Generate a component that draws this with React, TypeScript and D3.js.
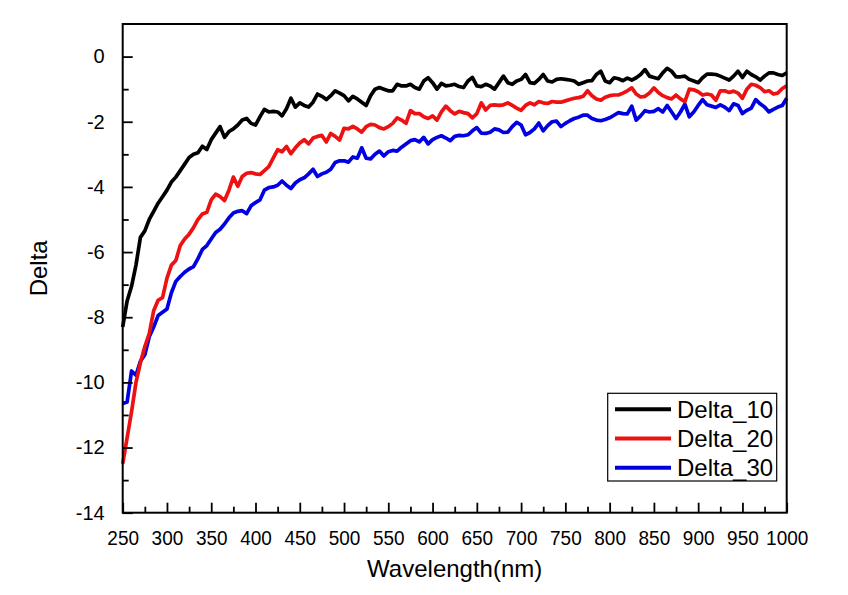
import React, { useEffect, useRef } from 'react';
import * as d3 from 'd3';

// sampling grid, nm
const wavelengths = d3.range(250, 1001, 5);

const delta10 = [
  -8.3, -7.5, -7.05, -6.4, -5.55, -5.35, -5.0, -4.75, -4.5, -4.3,
  -4.1, -3.85, -3.7, -3.5, -3.3, -3.1, -3.0, -2.95, -2.75, -2.85,
  -2.55, -2.35, -2.15, -2.48, -2.3, -2.22, -2.1, -1.95, -1.9, -2.05,
  -2.1, -1.85, -1.62, -1.7, -1.68, -1.7, -1.82, -1.6, -1.28, -1.55,
  -1.42, -1.5, -1.55, -1.4, -1.15, -1.22, -1.32, -1.2, -1.05, -1.12,
  -1.2, -1.36, -1.22, -1.3, -1.4, -1.5, -1.2, -1.0, -0.95, -1.0,
  -1.05, -1.05, -0.85, -0.9, -0.9, -0.85, -0.95, -1.0, -0.75, -0.65,
  -0.8, -1.0, -0.82, -0.9, -0.88, -0.85, -0.92, -0.95, -0.75, -0.64,
  -0.9, -0.92, -0.85, -0.9, -1.0, -0.8, -0.6, -0.8, -0.85, -0.75,
  -0.7, -0.55, -0.8, -0.82, -0.7, -0.55, -0.75, -0.78, -0.7, -0.68,
  -0.7, -0.72, -0.75, -0.85, -0.8, -0.75, -0.74, -0.55, -0.45, -0.75,
  -0.8, -0.65, -0.68, -0.74, -0.66, -0.72, -0.65, -0.55, -0.4, -0.6,
  -0.64, -0.68, -0.5, -0.36, -0.45, -0.62, -0.62, -0.6, -0.7, -0.75,
  -0.8, -0.65, -0.54, -0.54, -0.55, -0.6, -0.66, -0.72, -0.6, -0.45,
  -0.64, -0.45, -0.55, -0.62, -0.72, -0.6, -0.5, -0.5, -0.55, -0.58,
  -0.5,
];

const delta20 = [
  -12.5, -11.7, -10.9, -10.0, -9.4, -8.9, -8.5, -7.8, -7.48, -7.4,
  -6.8, -6.4, -6.26, -5.8, -5.6, -5.45, -5.25, -5.0, -4.83, -4.78,
  -4.4, -4.22, -4.3, -4.42, -4.1, -3.7, -3.98, -3.68, -3.58, -3.56,
  -3.6, -3.62, -3.5, -3.38, -3.12, -2.86, -2.92, -2.76, -2.98, -2.8,
  -2.65, -2.55, -2.68, -2.5, -2.45, -2.42, -2.62, -2.36, -2.45, -2.56,
  -2.2, -2.22, -2.14, -2.22, -2.32, -2.15, -2.08, -2.1, -2.18, -2.22,
  -2.15, -2.05, -1.88, -1.95, -2.05, -1.66, -1.75, -1.75, -1.85, -1.9,
  -1.82, -1.95, -1.7, -1.52, -1.66, -1.76, -1.68, -1.72, -1.75, -1.88,
  -1.75, -1.42, -1.64, -1.5, -1.48, -1.5, -1.48, -1.42, -1.5, -1.58,
  -1.65, -1.5, -1.42, -1.48, -1.38, -1.42, -1.44, -1.38, -1.4, -1.4,
  -1.36, -1.32, -1.28, -1.26, -1.22, -1.05, -1.2, -1.3, -1.34, -1.25,
  -1.2, -1.18, -1.18, -1.12, -1.05, -0.96, -1.15, -1.24, -1.22, -1.12,
  -0.96, -1.1, -1.2, -1.26, -1.3, -1.18, -1.3, -1.38, -1.0, -1.02,
  -1.08, -1.18, -1.15, -1.18, -1.34, -1.05, -1.05, -1.1, -1.06, -1.12,
  -1.28, -1.0, -0.85, -0.88, -0.95, -1.08, -1.05, -1.15, -1.12, -0.98,
  -0.9,
];

const delta30 = [
  -10.65, -10.6, -9.65, -9.78, -9.35, -9.15, -8.6, -8.3, -7.95, -7.85,
  -7.75, -7.25, -6.9, -6.75, -6.62, -6.52, -6.45, -6.2, -5.92, -5.8,
  -5.6, -5.4, -5.3, -5.14, -4.95, -4.8, -4.75, -4.73, -4.82, -4.58,
  -4.48, -4.4, -4.1, -4.02, -4.0, -3.95, -3.82, -3.95, -4.05, -3.88,
  -3.78, -3.72, -3.6, -3.46, -3.68, -3.6, -3.55, -3.46, -3.25, -3.2,
  -3.2, -3.24, -3.08, -3.12, -2.8, -3.12, -3.14, -3.0, -2.9, -3.05,
  -2.92, -2.88, -2.9, -2.78, -2.68, -2.58, -2.55, -2.62, -2.48, -2.68,
  -2.55, -2.48, -2.43, -2.5, -2.58, -2.45, -2.42, -2.43, -2.4, -2.28,
  -2.18, -2.35, -2.36, -2.32, -2.22, -2.25, -2.33, -2.32, -2.15, -2.02,
  -2.1, -2.4, -2.33, -2.22, -2.04, -2.28, -2.12, -2.0, -1.98, -2.15,
  -2.05, -1.97, -1.9, -1.86, -1.8, -1.8, -1.9, -1.95, -1.97, -1.93,
  -1.88, -1.8, -1.72, -1.75, -1.76, -1.52, -1.95, -1.82, -1.66, -1.7,
  -1.68, -1.6, -1.7, -1.5, -1.7, -1.9, -1.7, -1.46, -1.85, -1.7,
  -1.5, -1.32, -1.48, -1.52, -1.56, -1.48, -1.55, -1.66, -1.45, -1.5,
  -1.75, -1.65, -1.58, -1.32, -1.45, -1.55, -1.7, -1.62, -1.55, -1.5,
  -1.28,
];

const seriesNames = ['Delta_10', 'Delta_20', 'Delta_30'];
const seriesColors = ['#000000', '#ee1111', '#0000e0'];
const xTicks = d3.range(250, 1001, 50);
const xMinor = d3.range(275, 1000, 50);
const yTicks = [0, -2, -4, -6, -8, -10, -12, -14];
const yMinor = [-1, -3, -5, -7, -9, -11, -13];

const App: React.FC = () => {
  const svgRef = useRef<SVGSVGElement | null>(null);

  useEffect(() => {
    const svg = d3.select(svgRef.current);
    svg.selectAll('*').remove();
    const font = 'Arial, "Liberation Sans", sans-serif';

    const left = 122.7, right = 786.7, top = 24, bottom = 512.7;
    const x = d3.scaleLinear().domain([250, 1000]).range([left, right]);
    const y = d3.scaleLinear().domain([-14, 1]).range([bottom, top]);

    const series = [delta10, delta20, delta30];

    const plot = svg.append('g');
    const line = d3
      .line<number>()
      .x((_, i) => x(wavelengths[i]))
      .y(d => y(d));

    // draw blue first so black stays on top
    [2, 1, 0].forEach(k => {
      plot
        .append('path')
        .datum(series[k])
        .attr('d', line)
        .attr('fill', 'none')
        .attr('stroke', seriesColors[k])
        .attr('stroke-width', 3.7)
        .attr('stroke-linejoin', 'round');
    });

    // bottom axis
    const xAxis = svg
      .append('g')
      .attr('transform', `translate(0,${bottom})`)
      .call(
        d3.axisBottom(x).tickValues(xTicks).tickSizeInner(-10).tickSizeOuter(0).tickPadding(16)
          .tickFormat(d3.format('d')) as any
      );
    xAxis.select('.domain').remove();
    xAxis.selectAll('line').attr('stroke-width', 1.8);
    xAxis
      .selectAll('text')
      .attr('font-size', 19)
      .attr('font-family', font)
      .attr('fill', '#000')
      .attr('transform', 'scale(1,1.1)');

    const xMin = svg
      .append('g')
      .attr('transform', `translate(0,${bottom})`)
      .call(d3.axisBottom(x).tickValues(xMinor).tickSize(-6).tickFormat(() => '') as any);
    xMin.select('.domain').remove();
    xMin.selectAll('line').attr('stroke-width', 1.8);

    // left axis
    const yAxis = svg
      .append('g')
      .attr('transform', `translate(${left},0)`)
      .call(
        d3.axisLeft(y).tickValues(yTicks).tickSizeInner(-10).tickSizeOuter(0).tickPadding(18)
          .tickFormat(d3.format('d')) as any
      );
    yAxis.select('.domain').remove();
    yAxis.selectAll('line').attr('stroke-width', 1.8);
    yAxis
      .selectAll('text')
      .attr('font-size', 20)
      .attr('font-family', font)
      .attr('fill', '#000')
      .text(d => String(d).replace('\u2212', '-'));

    const yMin = svg
      .append('g')
      .attr('transform', `translate(${left},0)`)
      .call(d3.axisLeft(y).tickValues(yMinor).tickSize(-6).tickFormat(() => '') as any);
    yMin.select('.domain').remove();
    yMin.selectAll('line').attr('stroke-width', 1.8);

    // frame
    svg
      .append('rect')
      .attr('x', left)
      .attr('y', top)
      .attr('width', right - left)
      .attr('height', bottom - top)
      .attr('fill', 'none')
      .attr('stroke', '#000')
      .attr('stroke-width', 2);

    // titles
    svg
      .append('text')
      .attr('x', (left + right) / 2)
      .attr('y', 577)
      .attr('text-anchor', 'middle')
      .attr('font-size', 24)
      .attr('font-family', font)
      .text('Wavelength(nm)');

    svg
      .append('text')
      .attr('transform', `translate(47,${(top + bottom) / 2}) rotate(-90)`)
      .attr('text-anchor', 'middle')
      .attr('font-size', 24)
      .attr('font-family', font)
      .text('Delta');

    // legend
    const lg = svg.append('g');
    lg.append('rect')
      .attr('x', 607.7)
      .attr('y', 393.3)
      .attr('width', 169)
      .attr('height', 87.7)
      .attr('fill', '#fff')
      .attr('stroke', '#000')
      .attr('stroke-width', 1.2);
    seriesNames.forEach((name, i) => {
      const ly = 409.3 + i * 29.2;
      lg.append('line')
        .attr('x1', 615)
        .attr('x2', 671)
        .attr('y1', ly)
        .attr('y2', ly)
        .attr('stroke', seriesColors[i])
        .attr('stroke-width', 4);
      lg.append('text')
        .attr('x', 677)
        .attr('y', ly)
        .attr('dy', '0.36em')
        .attr('font-size', 24)
        .attr('font-family', font)
        .text(name);
    });
  }, []);

  return (
    <div>
      <svg
        ref={svgRef}
        width={848}
        height={595}
        style={{ position: 'absolute', left: 0, top: 0, background: '#fff' }}
      ></svg>
    </div>
  );
};

export default App;
